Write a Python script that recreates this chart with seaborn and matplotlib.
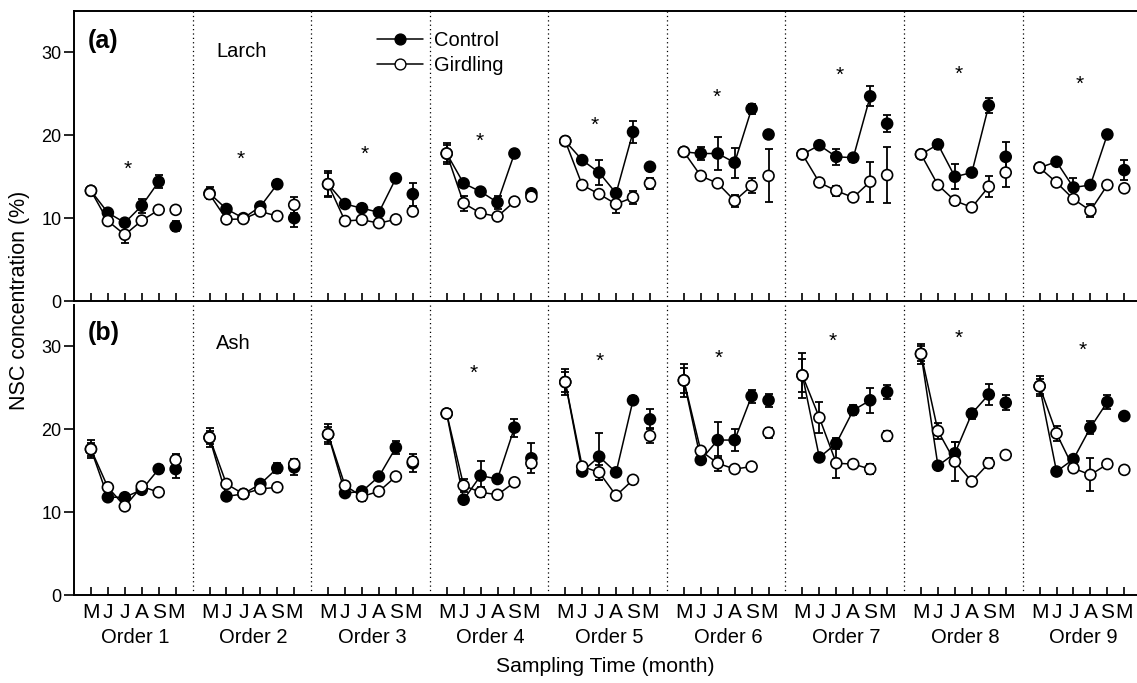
import numpy as np
import pandas as pd
import matplotlib
matplotlib.use("Agg")
import matplotlib.pyplot as plt
from matplotlib.lines import Line2D
import seaborn as sns

sns.set_theme(style="white")
plt.rcParams['font.family'] = ['Liberation Sans', 'DejaVu Sans']
plt.rcParams.update({"text.color": "black", "axes.labelcolor": "black",
                     "xtick.color": "black", "ytick.color": "black"})

months = ["M", "J", "J", "A", "S", "M"]
orders = [f"Order {i}" for i in range(1, 10)]
treatments = ["Control", "Girdling"]

larch_ctrl = [
    [13.3, 10.65, 9.45, 11.5, 14.4, 9.0],
    [13.0, 11.1, 10.0, 11.4, 14.1, 10.0],
    [14.1, 11.7, 11.2, 10.7, 14.8, 12.9],
    [17.8, 14.2, 13.2, 11.9, 17.8, 13.0],
    [19.3, 17.0, 15.5, 13.0, 20.4, 16.2],
    [18.0, 17.8, 17.8, 16.7, 23.2, 20.1],
    [17.7, 18.8, 17.4, 17.3, 24.7, 21.4],
    [17.7, 18.9, 15.0, 15.5, 23.6, 17.4],
    [16.1, 16.8, 13.7, 14.0, 20.1, 15.8],
]
larch_ctrl_err = [
    [0.4, 0.3, 0.4, 0.85, 0.8, 0.6],
    [0.7, 0.4, 0.3, 0.4, 0.5, 1.1],
    [1.6, 0.4, 0.5, 0.4, 0.3, 1.4],
    [1.3, 0.3, 0.3, 0.8, 0.4, 0.3],
    [0.3, 0.5, 1.5, 0.5, 1.3, 0.4],
    [0.2, 0.8, 2.0, 1.8, 0.6, 0.0],
    [0.2, 0.3, 1.0, 0.5, 1.2, 1.0],
    [0.2, 0.5, 1.5, 0.3, 0.9, 1.8],
    [0.3, 0.3, 1.2, 0.3, 0.3, 1.2],
]
larch_gird = [
    [13.3, 9.65, 8.0, 9.7, 11.0, 11.0],
    [12.9, 9.85, 9.9, 10.8, 10.25, 11.6],
    [14.1, 9.65, 9.8, 9.4, 9.85, 10.8],
    [17.8, 11.8, 10.6, 10.2, 12.0, 12.6],
    [19.3, 14.0, 12.9, 11.7, 12.5, 14.2],
    [18.0, 15.1, 14.2, 12.1, 13.9, 15.1],
    [17.7, 14.3, 13.3, 12.5, 14.4, 15.2],
    [17.7, 14.0, 12.1, 11.3, 13.8, 15.5],
    [16.1, 14.3, 12.3, 10.9, 14.0, 13.6],
]
larch_gird_err = [
    [0.3, 0.3, 1.0, 0.3, 0.3, 0.2],
    [0.5, 0.3, 0.4, 0.3, 0.5, 1.0],
    [1.4, 0.4, 0.5, 0.3, 0.2, 0.3],
    [1.0, 0.9, 0.3, 0.4, 0.4, 0.5],
    [0.3, 0.2, 0.3, 1.1, 0.8, 0.7],
    [0.2, 0.3, 0.2, 0.7, 0.9, 3.2],
    [0.2, 0.3, 0.6, 0.3, 2.4, 3.4],
    [0.2, 0.3, 0.5, 0.3, 1.3, 1.8],
    [0.3, 0.3, 0.3, 0.8, 0.3, 0.3],
]
ash_ctrl = [
    [17.6, 11.8, 11.8, 12.7, 15.2, 15.2],
    [19.0, 11.9, 12.2, 13.4, 15.3, 15.4],
    [19.4, 12.3, 12.5, 14.3, 17.8, 15.9],
    [21.9, 11.5, 14.4, 14.0, 20.2, 16.5],
    [25.7, 14.9, 16.7, 14.8, 23.5, 21.2],
    [25.9, 16.3, 18.7, 18.7, 24.0, 23.5],
    [26.5, 16.6, 18.3, 22.3, 23.5, 24.5],
    [29.1, 15.6, 17.1, 21.9, 24.2, 23.2],
    [25.2, 14.9, 16.4, 20.2, 23.3, 21.6],
]
ash_ctrl_err = [
    [1.1, 0.4, 0.4, 0.3, 0.5, 1.1],
    [1.1, 0.3, 0.4, 0.3, 0.6, 0.9],
    [1.2, 0.3, 0.4, 0.3, 0.8, 1.1],
    [0.5, 0.3, 1.8, 0.3, 1.1, 1.8],
    [1.6, 0.4, 2.8, 0.3, 0.5, 1.2],
    [2.0, 0.4, 2.2, 1.3, 0.8, 0.8],
    [2.7, 0.4, 0.7, 0.6, 1.5, 0.8],
    [1.2, 0.3, 1.4, 0.6, 1.3, 0.9],
    [1.2, 0.3, 0.3, 0.8, 0.8, 0.3],
]
ash_gird = [
    [17.6, 13.0, 10.7, 13.1, 12.4, 16.3],
    [19.0, 13.4, 12.2, 12.8, 13.0, 15.8],
    [19.4, 13.2, 11.9, 12.5, 14.3, 16.1],
    [21.9, 13.2, 12.4, 12.1, 13.6, 15.9],
    [25.7, 15.5, 14.8, 12.0, 13.9, 19.2],
    [25.9, 17.4, 15.9, 15.2, 15.5, 19.6],
    [26.5, 21.4, 15.9, 15.8, 15.2, 19.2],
    [29.1, 19.8, 16.1, 13.7, 15.9, 16.9],
    [25.2, 19.5, 15.3, 14.5, 15.8, 15.1],
]
ash_gird_err = [
    [0.8, 0.3, 0.3, 0.3, 0.4, 0.7],
    [0.8, 0.3, 0.4, 0.3, 0.4, 0.6],
    [0.9, 0.3, 0.6, 0.3, 0.3, 0.6],
    [0.4, 0.8, 0.6, 0.3, 0.3, 0.6],
    [1.2, 0.4, 0.9, 0.3, 0.3, 0.9],
    [1.5, 0.3, 0.9, 0.4, 0.3, 0.6],
    [2.0, 1.9, 1.8, 0.4, 0.6, 0.6],
    [0.9, 1.0, 2.4, 0.3, 0.6, 0.4],
    [0.9, 0.9, 0.3, 2.0, 0.3, 0.3],
]

# significance asterisks: order index, month index (position within order), value
larch_star_order = [0, 1, 2, 3, 4, 5, 6, 7, 8]
larch_star_month = [2.14, 1.86, 2.14, 1.94, 1.73, 1.93, 2.2, 2.23, 2.37]
larch_star_y = [16.4, 17.6, 18.2, 19.8, 21.8, 25.1, 27.8, 27.9, 26.7]
ash_star_order = [3, 4, 5, 6, 7, 8]
ash_star_month = [1.58, 2.06, 2.05, 1.78, 2.23, 2.55]
ash_star_y = [27.3, 28.7, 29.1, 31.2, 31.5, 30.1]

SLOT = 7  # slots per order segment (6 months + gap)


def build_df(ctrl, ctrl_err, gird, gird_err):
    rows = []
    for tname, vals, errs in (("Control", ctrl, ctrl_err), ("Girdling", gird, gird_err)):
        for k, order in enumerate(orders):
            for i, m in enumerate(months):
                rows.append(dict(treatment=tname, order=order, month=i,
                                 x=SLOT * k + i + 1, value=vals[k][i], err=errs[k][i]))
    return pd.DataFrame(rows)


panels = [
    dict(df=build_df(larch_ctrl, larch_ctrl_err, larch_gird, larch_gird_err),
         tag="(a)", name="Larch", so=larch_star_order, sm=larch_star_month, sy=larch_star_y),
    dict(df=build_df(ash_ctrl, ash_ctrl_err, ash_gird, ash_gird_err),
         tag="(b)", name="Ash", so=ash_star_order, sm=ash_star_month, sy=ash_star_y),
]

W, H = 1137, 683
fig = plt.figure(figsize=(W / 100, H / 100), dpi=100)
ax_left = 74 / W
ax_w = 1 - ax_left
ax_h = 290 / H
axes = [fig.add_axes([ax_left, 1 - 301 / H, ax_w, ax_h]),
        fig.add_axes([ax_left, 1 - 595 / H, ax_w, ax_h])]

xticks = [SLOT * k + i + 1 for k in range(len(orders)) for i in range(len(months))]
xlabels = months * len(orders)

for pi, (ax, p) in enumerate(zip(axes, panels)):
    df = p["df"]
    ax.set_xlim(0, 62.75)
    ax.set_ylim(0, 35)

    # separators
    for k in range(1, len(orders)):
        ax.axvline(SLOT * k, color="black", lw=0.9, ls=(0, (1, 2.5)), zorder=1)

    line_df = df[df["month"] < 5]
    sns.lineplot(data=line_df, x="x", y="value", hue="treatment", units="order",
                 estimator=None, palette={"Control": "black", "Girdling": "black"},
                 legend=False, lw=1.1, ax=ax, zorder=2, sort=True)
    for t in treatments:
        sub = df[df["treatment"] == t]
        ax.errorbar(sub["x"], sub["value"], yerr=sub["err"], fmt="none",
                    ecolor="black", elinewidth=1.3, capsize=3, capthick=1.3, zorder=3)
    sns.scatterplot(data=df, x="x", y="value", hue="treatment",
                    palette={"Control": "black", "Girdling": "white"},
                    edgecolor="black", linewidth=1.2, s=62, legend=False, ax=ax, zorder=4)

    for o, m, y in zip(p["so"], p["sm"], p["sy"]):
        ax.text(SLOT * o + m + 1, y - 0.55, "*", ha="center", va="center",
                fontsize=15, color="black")

    ax.text(0.013, 0.897 if pi == 0 else 0.903, p["tag"], transform=ax.transAxes,
            fontsize=18, fontweight="bold", ha="left", va="center")
    ax.text(0.1336, 0.862 if pi == 0 else 0.866, p["name"], transform=ax.transAxes,
            fontsize=14.5, ha="left", va="center")

    ax.set_yticks([0, 10, 20, 30])
    ax.tick_params(axis="y", direction="out", length=7, width=1.2, labelsize=13, pad=2,
                   left=True)
    ax.set_xticks(xticks)
    ax.tick_params(axis="x", direction="in", length=6, width=1.2, bottom=True)
    ax.set_xlabel("")
    ax.set_ylabel("")
    for s in ["left", "bottom", "top"]:
        ax.spines[s].set_color("black")
        ax.spines[s].set_linewidth(1.4)
    ax.spines["right"].set_visible(False)
    if pi == 1:
        ax.spines["top"].set_visible(False)
        ax.set_xticklabels(xlabels, fontsize=15)
        ax.tick_params(axis="x", pad=6)
        for k, o in enumerate(orders):
            ax.text(SLOT * k + 3.6, -0.145, o, transform=ax.get_xaxis_transform(),
                    ha="center", va="center", fontsize=14.5)
        ax.text(0.5, -0.245, "Sampling Time (month)", transform=ax.transAxes,
                ha="center", va="center", fontsize=15.2)
    else:
        ax.set_xticklabels([])

handles = [Line2D([], [], color="black", lw=1.1, marker="o", markersize=7.8,
                  markerfacecolor="black", markeredgecolor="black", label="Control"),
           Line2D([], [], color="black", lw=1.1, marker="o", markersize=7.8,
                  markerfacecolor="white", markeredgecolor="black", label="Girdling")]
axes[0].legend(handles=handles, loc="upper left", bbox_to_anchor=(0.285, 0.93),
               frameon=False, fontsize=14.5, handlelength=2.3, handletextpad=0.55,
               labelspacing=0.3, borderpad=0, borderaxespad=0)

fig.text(20 / W, 1 - 300 / H, "NSC concentration (%)", rotation=90,
         ha="center", va="center", fontsize=15.5)

fig.savefig("out.png", dpi=100)
